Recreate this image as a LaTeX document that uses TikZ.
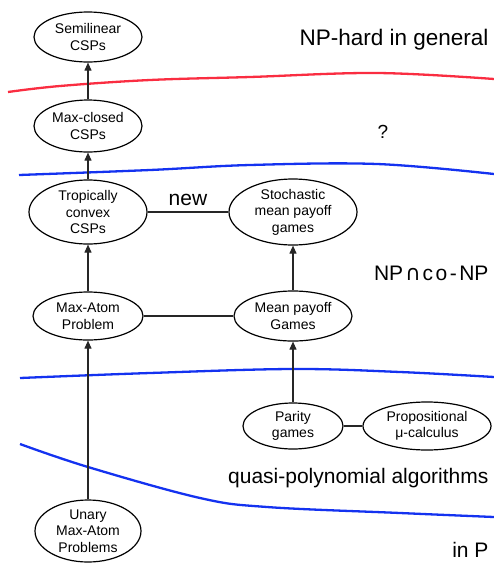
\documentclass[tikz,border=0pt]{standalone}
\usepackage{fontspec}
\setmainfont{Liberation Sans}
\newfontfamily\symfont{DejaVu Sans}
\usepackage{tikz}
\usetikzlibrary{positioning,calc,arrows.meta,shapes.geometric}

\begin{document}
\begin{tikzpicture}[x=1pt, y=-1pt]
	\tikzset{
		problem/.style={ellipse, draw=black, line width=1.2pt, inner sep=0pt, align=center, font=\fontsize{14}{16.5}\selectfont},
		reduce/.style={draw=black!85, line width=1.1pt, -{Triangle[length=8pt,width=7pt]}},
		link/.style={draw=black!85, line width=1.1pt},
		region/.style={font=\fontsize{21}{24}\selectfont, anchor=east},
		border/.style={line width=2.3pt}
	}
	\useasboundingbox (0,0) rectangle (494,563);
	
	% Boundaries between complexity classes
	\draw[border, color={rgb,255:red,250;green,45;blue,65}] plot[smooth, tension=0.6] coordinates {(8,92) (60,86) (150,80) (250,77) (377,73) (494,79)};
	\draw[border, color={rgb,255:red,20;green,50;blue,240}] plot[smooth, tension=0.6] coordinates {(19,175) (150,170) (250,165) (377,164) (494,174)};
	\draw[border, color={rgb,255:red,20;green,50;blue,240}] plot[smooth, tension=0.6] coordinates {(20,378) (150,373) (293,369) (400,372) (494,377)};
	\draw[border, color={rgb,255:red,20;green,50;blue,240}] plot[smooth, tension=0.6] coordinates {(20,444) (88,467) (200,498) (267,507) (400,513) (494,517)};
	
	% Left column
	\node[problem, minimum width=108, minimum height=50] (semi) at (88,37) {Semilinear\\CSPs};
	\node[problem, minimum width=108, minimum height=52] (maxc) at (88,126) {Max-closed\\CSPs};
	\node[problem, minimum width=118, minimum height=64] (trop) at (88,212) {Tropically\\convex\\CSPs};
	\node[problem, minimum width=110, minimum height=48] (atom) at (88,316) {Max-Atom\\Problem};
	\node[problem, minimum width=106, minimum height=62] (unary) at (88,531) {Unary\\Max-Atom\\Problems};
	
	% Right column
	\node[problem, minimum width=128, minimum height=66] (smpg) at (293,212) {Stochastic\\mean payoff\\games};
	\node[problem, minimum width=118, minimum height=50] (mpg) at (293,316) {Mean payoff\\Games};
	\node[problem, minimum width=100, minimum height=46] (parity) at (293,426) {Parity\\games};
	\node[problem, minimum width=128, minimum height=48] (mucalc) at (427,426) {Propositional\\μ-calculus};
	
	\draw[reduce] (maxc)--(semi);
	\draw[reduce] (trop)--(maxc);
	\draw[reduce] (atom)--(trop);
	\draw[reduce] (unary)--(atom);
	\draw[reduce] (mpg)--(smpg);
	\draw[reduce] (parity)--(mpg);
	\draw[link] (trop)--(smpg);
	\draw[link] (atom)--(mpg);
	\draw[link] (parity)--(mucalc);
	
	\node[font=\fontsize{21}{24}\selectfont] (new) at (188,200) {new};
	
	% Class labels
	\node[region, font=\fontsize{22.5}{26}\selectfont] (nphard) at (492,40) {NP-hard in general};
	\node[font=\fontsize{19}{22}\selectfont] (open) at (383,132) {?};
	\node[region] (npconp) at (492,273) {NP\kern2pt{\symfont∩}\kern2pt c\kern2.5pt o\kern2.5pt -\kern2.5pt NP};
	\node[region] (quasi) at (492,478) {quasi-polynomial algorithms};
	\node[region] (inp) at (492,550) {in P};
\end{tikzpicture}
\end{document}
